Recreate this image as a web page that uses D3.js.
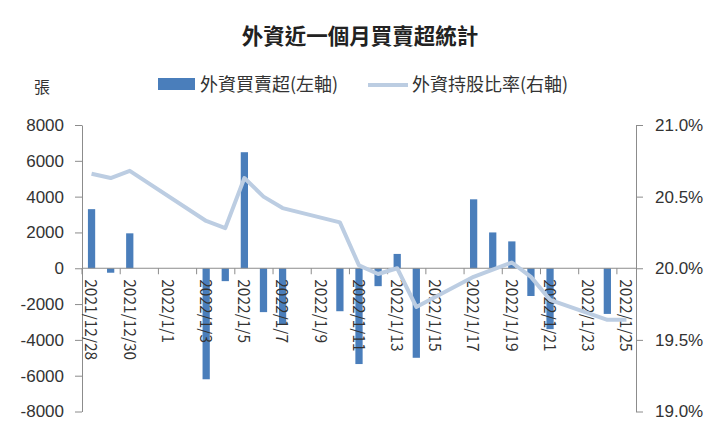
<!DOCTYPE html>
<html lang="zh-Hant">
<head>
<meta charset="UTF-8">
<title>外資近一個月買賣超統計</title>
<script src="https://d3js.org/d3.v7.min.js"></script>
<style>
  body { margin: 0; background: #fff; }
  svg { font-family: "Noto Sans CJK TC", "Noto Sans", sans-serif; }
  .axis path, .axis line { stroke: #8c8c8c; }
  .axis text { fill: #333; font-size: 17px; }
  .xaxis text { font-size: 15.5px; }
</style>
</head>
<body>
<svg width="720" height="432"></svg>
<script>
const dates = ["2021/12/28","2021/12/29","2021/12/30","2022/1/3","2022/1/4","2022/1/5","2022/1/6","2022/1/7",
  "2022/1/10","2022/1/11","2022/1/12","2022/1/13","2022/1/14","2022/1/17","2022/1/18","2022/1/19",
  "2022/1/20","2022/1/21","2022/1/24","2022/1/25"];
const netBuy = [3300, -250, 1950, -6200, -720, 6480, -2450, -3150, -2400, -5350, -1000, 800,
  -5000, 3850, 2000, 1500, -1550, -3400, -2550, 0];
const holdPct = [20.66, 20.63, 20.68, 20.33, 20.28, 20.63, 20.50, 20.42, 20.32, 20.02, 19.96, 20.00,
  19.73, 19.94, 19.99, 20.04, 19.94, 19.78, 19.64, 19.64];
const leftTicks = [-8000, -6000, -4000, -2000, 0, 2000, 4000, 6000, 8000];
const rightTicks = [19.0, 19.5, 20.0, 20.5, 21.0];

const parse = d3.timeParse("%Y/%-m/%-d");
const fmt = d3.timeFormat("%Y/%-m/%-d");
const data = dates.map((d, i) => ({ date: parse(d), buy: netBuy[i], pct: holdPct[i] }));

const svg = d3.select("svg");
const plotL = 82, plotR = 636, plotT = 125, plotB = 411.5;

// every calendar day gets a slot, like a date axis
const days = d3.timeDay.range(parse(dates[0]), d3.timeDay.offset(parse(dates[dates.length - 1]), 1));
const x = d3.scaleBand().domain(days.map(fmt)).range([plotL, plotR]).paddingInner(0.62).paddingOuter(0.31);
const gap = (x.step() - x.bandwidth()) / 2;
const cx = d => x(fmt(d)) + x.bandwidth() / 2;

const y = d3.scaleLinear().domain([-8000, 8000]).range([plotB, plotT]);
const y2 = d3.scaleLinear().domain([19, 21]).range([plotB, plotT]);

// title
svg.append("text").attr("x", 360).attr("y", 44).attr("text-anchor", "middle")
  .attr("font-size", 21.5).attr("font-weight", "bold").attr("fill", "#222")
  .text("外資近一個月買賣超統計");

svg.append("text").attr("x", 42).attr("y", 93).attr("text-anchor", "middle")
  .attr("font-size", 16).attr("fill", "#333").text("張");

// legend
const lg = svg.append("g").attr("font-size", 18).attr("fill", "#333");
lg.append("rect").attr("x", 158).attr("y", 78).attr("width", 37).attr("height", 12).attr("fill", "#4a7ebb");
lg.append("text").attr("x", 200).attr("y", 91).text("外資買賣超(左軸)");
lg.append("line").attr("x1", 368).attr("x2", 408).attr("y1", 85).attr("y2", 85)
  .attr("stroke", "#bccde2").attr("stroke-width", 4);
lg.append("text").attr("x", 412).attr("y", 91).text("外資持股比率(右軸)");

// axes
svg.append("g").attr("class", "axis").attr("transform", `translate(${plotL},0)`)
  .call(d3.axisLeft(y).tickValues(leftTicks).tickSize(7).tickSizeOuter(0).tickPadding(11).tickFormat(d => String(d)));
svg.append("g").attr("class", "axis").attr("transform", `translate(${plotR},0)`)
  .call(d3.axisRight(y2).tickValues(rightTicks).tickSize(7).tickSizeOuter(0).tickPadding(12).tickFormat(d => d.toFixed(1) + "%"));

// bars
svg.append("g").selectAll("rect").data(data).enter().append("rect")
  .attr("x", d => x(fmt(d.date)))
  .attr("width", x.bandwidth())
  .attr("y", d => y(Math.max(0, d.buy)))
  .attr("height", d => Math.abs(y(d.buy) - y(0)))
  .attr("fill", "#4a7ebb");

// x axis at zero, ticks every two days on slot edges, labels drawn over the bars
const labelDays = days.filter((d, i) => i % 2 === 0);
const xa = svg.append("g").attr("class", "axis xaxis");
xa.append("line").attr("x1", plotL).attr("x2", plotR).attr("y1", y(0)).attr("y2", y(0));
xa.selectAll(".tk").data(labelDays).enter().append("line")
  .attr("x1", d => x(fmt(d)) - gap).attr("x2", d => x(fmt(d)) - gap)
  .attr("y1", y(0)).attr("y2", y(0) + 6);
xa.selectAll(".lb").data(labelDays).enter().append("text")
  .attr("transform", d => `translate(${cx(d) - 2},${y(0) + 11}) rotate(90)`)
  .attr("dominant-baseline", "middle")
  .text(d => fmt(d));

// holding ratio line
svg.append("path").datum(data)
  .attr("fill", "none").attr("stroke", "#bccde2").attr("stroke-width", 4)
  .attr("stroke-linejoin", "round")
  .attr("d", d3.line().x(d => cx(d.date)).y(d => y2(d.pct)));
</script>
</body>
</html>
